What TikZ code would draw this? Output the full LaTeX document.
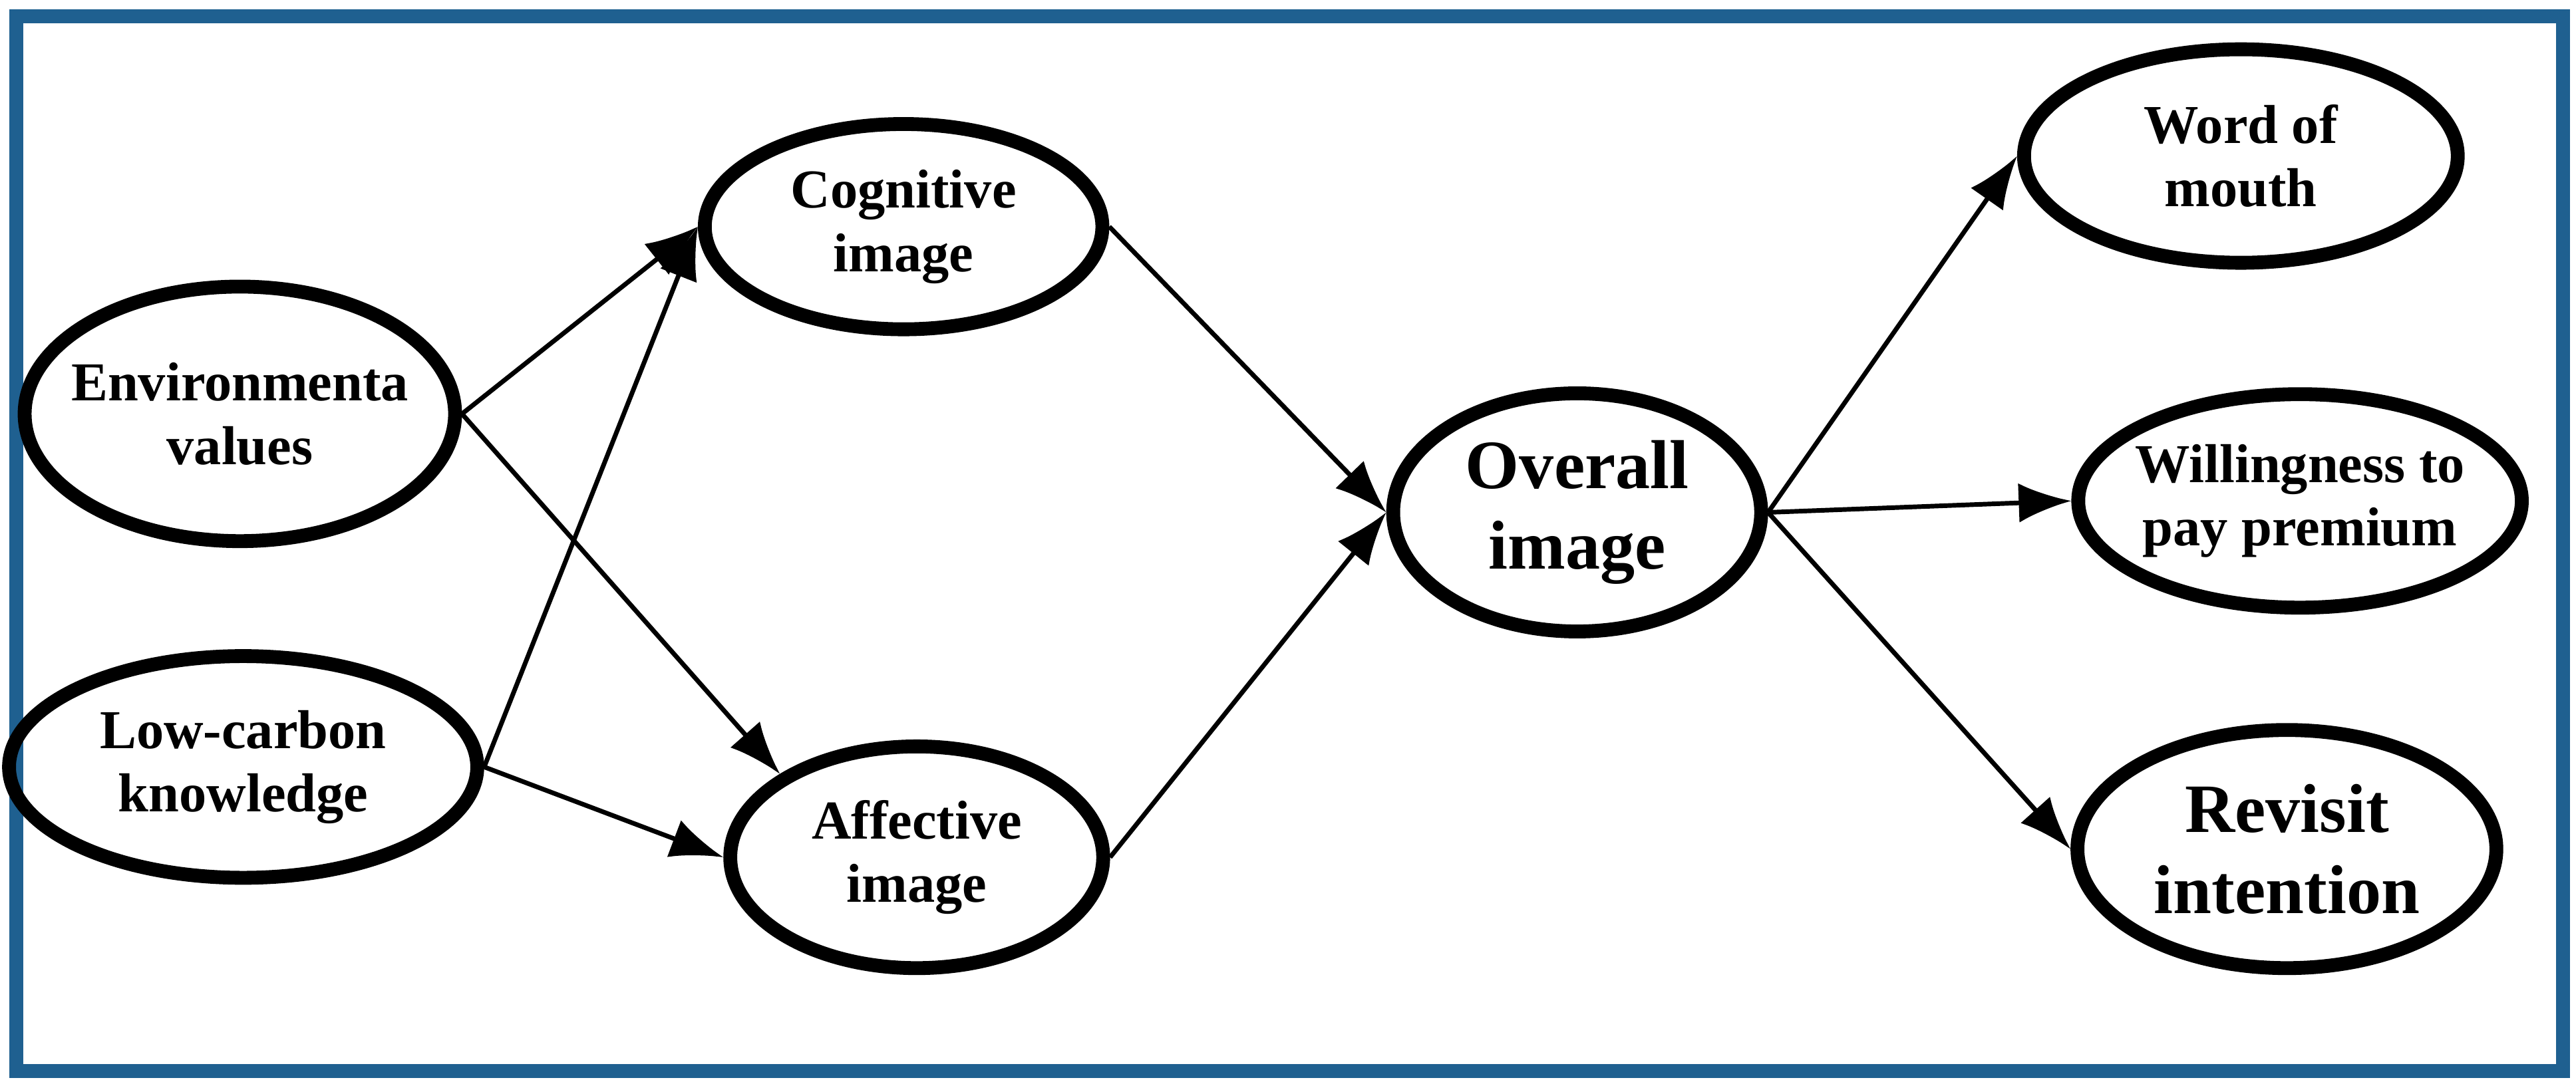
\documentclass[tikz,border=0pt]{standalone}
\usepackage{fontspec}
\setmainfont{Liberation Serif}
\usetikzlibrary{shapes.geometric,arrows.meta,positioning}
\definecolor{frameblue}{HTML}{1F6090}
\begin{document}
\begin{tikzpicture}[
        factor/.style = {draw, ellipse, line width=2.4pt, inner xsep=-4mm, inner ysep=-1.5mm, align=center, font=\bfseries\fontsize{9.5}{11}\selectfont},
        path/.style = {line width=0.8pt, -{Latex[length=3.2mm,width=2.4mm]}}
        ]
        \useasboundingbox (0,0) rectangle (15.68,-6.6);
        \draw[frameblue, line width=2.4pt] (0.1,-0.1) rectangle (15.6,-6.52);

        \node[factor, minimum width=2.62cm, minimum height=1.55cm] (env) at (1.46,-2.52) {Environmenta\\values};
        \node[factor, minimum width=2.85cm, minimum height=1.35cm] (low) at (1.48,-4.67) {Low-carbon\\knowledge};
        \node[factor, minimum width=2.42cm, minimum height=1.25cm] (cog) at (5.5,-1.38) {Cognitive\\image};
        \node[factor, minimum width=2.27cm, minimum height=1.35cm] (aff) at (5.58,-5.22) {Affective\\image};
        \node[factor, minimum width=2.24cm, minimum height=1.45cm, font=\bfseries\fontsize{12}{14}\selectfont] (ovr) at (9.6,-3.12) {Overall\\image};
        \node[factor, minimum width=2.64cm, minimum height=1.3cm] (wom) at (13.64,-0.95) {Word of\\mouth};
        \node[factor, minimum width=2.7cm, minimum height=1.3cm] (wtp) at (14.0,-3.05) {Willingness to\\pay premium};
        \node[factor, minimum width=2.55cm, minimum height=1.45cm, font=\bfseries\fontsize{12}{14}\selectfont] (rev) at (13.92,-5.17) {Revisit\\intention};

        \draw[path] (env.east) -- (cog.west);
        \draw[path] (env.east) -- (aff.north west);
        \draw[path] (low.east) -- (cog.west);
        \draw[path] (low.east) -- (aff.west);
        \draw[path] (cog.east) -- (ovr.west);
        \draw[path] (aff.east) -- (ovr.west);
        \draw[path] (ovr.east) -- (wom.west);
        \draw[path] (ovr.east) -- (wtp.west);
        \draw[path] (ovr.east) -- (rev.west);
    \end{tikzpicture}
\end{document}
